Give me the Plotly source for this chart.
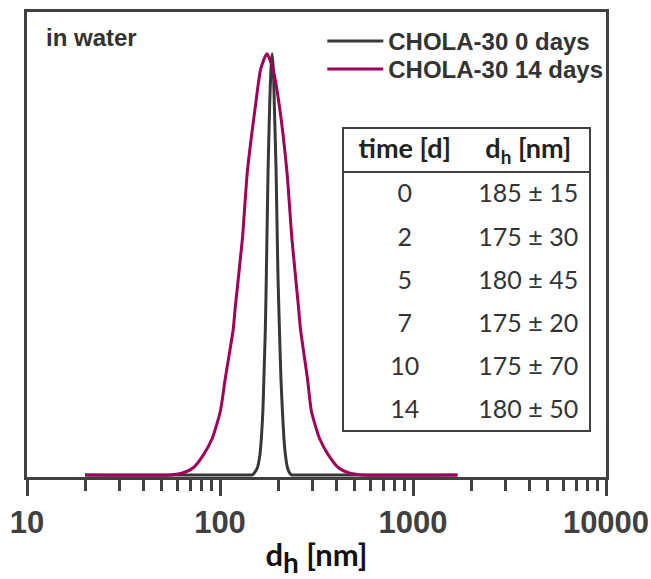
import plotly.graph_objects as go

# ---- data ----
d0_nm = [20, 140, 147.1, 150.7, 156.2, 160.9, 163.8, 166.8, 168.8, 171.8, 173.9, 177.4, 180.8, 183.5, 186.2,
         189.1, 191.3, 195.3, 199.5, 203.2, 206.9, 210.6, 214.4, 218.3, 223.6, 229.0, 234.4, 245, 1700]
d0_int = [0, 0, 0, 0.005, 0.017, 0.047, 0.087, 0.151, 0.229, 0.347, 0.48, 0.72, 0.875, 0.96, 1.0,
          0.96, 0.875, 0.72, 0.48, 0.347, 0.229, 0.151, 0.087, 0.047, 0.017, 0.005, 0, 0, 0]

d14_nm = [20, 55.2, 64.5, 72.7, 81.9, 91.2, 100.4, 106.5, 117.2, 120.1, 130.6, 138.6, 152.5, 162.8, 175.0,
          187.9, 203.2, 222.2, 235.9, 254.9, 261.1, 283.8, 297.7, 327.6, 364.8, 411.1, 463.3, 547.6, 1700]
d14_int = [0, 0, 0.005, 0.017, 0.047, 0.087, 0.151, 0.229, 0.347, 0.40, 0.56, 0.72, 0.875, 0.965, 1.0,
           0.965, 0.875, 0.72, 0.56, 0.40, 0.347, 0.229, 0.151, 0.087, 0.047, 0.017, 0.005, 0, 0]

series_names = ["CHOLA-30 0 days", "CHOLA-30 14 days"]
series_colors = ["#383838", "#a0005a"]

table_time = ["0", "2", "5", "7", "10", "14"]
table_dh = ["185 ± 15", "175 ± 30", "180 ± 45", "175 ± 20", "175 ± 70", "180 ± 50"]
table_headers = ["<b>time [d]</b>", "<b>d<sub>h</sub> [nm]</b>"]

x_major = [10, 100, 1000, 10000]
x_minor = [m * 10 ** e for e in (1, 2, 3) for m in range(2, 10)]

FRAME = "#404040"

fig = go.Figure()
for xs, ys, name, col, leg in [(d0_nm, d0_int, series_names[0], series_colors[0], "legend"),
                               (d14_nm, d14_int, series_names[1], series_colors[1], "legend2")]:
    fig.add_trace(go.Scatter(
        x=xs, y=ys, mode="lines", name=name, legend=leg,
        line=dict(color=col, width=3, shape="spline", smoothing=0.6),
    ))

TX = [0.5458, 0.9724]
TY = [0.0989, 0.7505]
SHIFT = 0.0108
fig.add_trace(go.Table(
    domain=dict(x=TX, y=[TY[0] + SHIFT, TY[1] + SHIFT]),
    columnwidth=[1, 1],
    header=dict(values=table_headers, height=44, align="center",
                fill=dict(color="rgba(0,0,0,0)"),
                line=dict(width=0, color="rgba(0,0,0,0)"),
                font=dict(family="Lato", size=27, color="#222")),
    cells=dict(values=[table_time, table_dh], height=43.2, align="center",
               fill=dict(color="rgba(0,0,0,0)"),
               line=dict(width=0, color="rgba(0,0,0,0)"),
               font=dict(family="Lato", size=25, color="#333")),
))

# table border and header separator
fig.add_shape(type="rect", xref="paper", yref="paper",
              x0=TX[0], x1=TX[1], y0=TY[0], y1=TY[1],
              line=dict(color=FRAME, width=2))
fig.add_shape(type="line", xref="paper", yref="paper",
              x0=TX[0], x1=TX[1], y0=0.6559, y1=0.6559,
              line=dict(color=FRAME, width=2))

fig.add_annotation(text="<b>in water</b>", xref="paper", yref="paper",
                   x=0.029, y=0.945, xanchor="left", yanchor="middle",
                   showarrow=False, font=dict(family="Liberation Sans", size=24, color="#333"))

legend_common = dict(xanchor="left", yanchor="top", itemwidth=56,
                     bgcolor="rgba(0,0,0,0)", tracegroupgap=0,
                     font=dict(family="Liberation Sans", size=24, color="#333", weight="bold"))

fig.update_layout(
    width=651, height=579,
    margin=dict(l=27, r=45, t=12, b=102),
    paper_bgcolor="white", plot_bgcolor="white",
    showlegend=True,
    legend=dict(x=0.51, y=0.985, **legend_common),
    legend2=dict(x=0.51, y=0.925, **legend_common),
    xaxis=dict(type="log", range=[1, 4], showgrid=False, zeroline=False, automargin=False,
               showline=True, linecolor=FRAME, linewidth=3, mirror=True,
               ticks="outside", ticklen=16, tickwidth=3, tickcolor=FRAME,
               tickvals=x_major, ticktext=[str(v) for v in x_major],
               minor=dict(tickvals=x_minor, ticks="outside", ticklen=11, tickwidth=3, tickcolor=FRAME),
               tickfont=dict(family="Liberation Sans", size=31, color=FRAME, weight="bold"),
               layer="below traces",
               title=dict(text="<b>d<sub><span style='font-size:28px'>h</span></sub> [nm]</b>", standoff=9,
                          font=dict(family="Lato", size=31, color="#111"))),
    yaxis=dict(range=[-0.005, 1.099], showgrid=False, zeroline=False, automargin=False,
               showline=True, linecolor=FRAME, linewidth=3, mirror=True,
               showticklabels=False, ticks="", layer="below traces"),
)

fig.write_html("out.html")
